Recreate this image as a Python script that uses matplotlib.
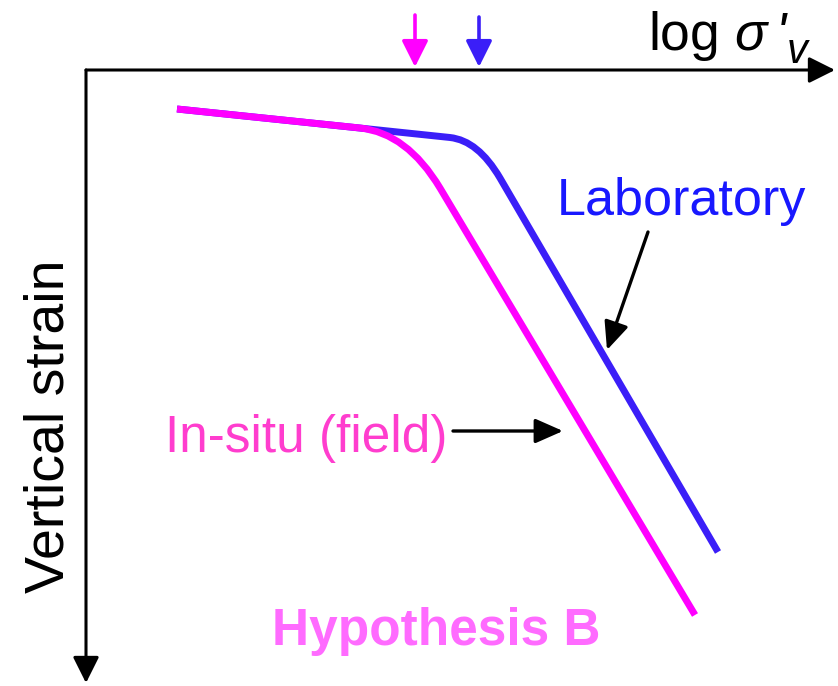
import matplotlib
matplotlib.use("Agg")
import matplotlib.pyplot as plt
from matplotlib.path import Path
from matplotlib.patches import PathPatch

plt.rcParams["font.family"] = ["Liberation Sans", "DejaVu Sans"]
plt.rcParams["mathtext.fontset"] = "custom"
plt.rcParams["mathtext.rm"] = "Liberation Sans"
plt.rcParams["mathtext.it"] = "Liberation Sans:italic"

# Schematic compression curves (log sigma'_v on x, vertical strain downwards).
# Each curve: start, start of bend, bend corner (Bezier control), end of bend, end.
insitu_logs = [177, 360, 407, 440, 695]
insitu_strain = [109, 128, 133, 188, 615]
lab_logs = [177, 350, 450, 478, 500, 718]
lab_strain = [109, 127, 137.5, 140.5, 178, 552]

# Preconsolidation markers on the stress axis
insitu_pc = 415
lab_pc = 479

# Axis frame
origin = (86, 70)
x_end = 835
y_end = 683

MAGENTA = "#ff00ff"
BLUE = "#3b1ef8"
TXT_MAGENTA = "#ff3dce"
TXT_BLUE = "#1818ff"
HYP_COLOR = "#ff6bff"

fig = plt.figure(figsize=(8.38, 6.86), dpi=100)
ax = fig.add_axes([0, 0, 1, 1])
ax.set_xlim(0, 838)
ax.set_ylim(686, 0)
ax.axis("off")


def arrow(ax, start, end, color="black", lw=2.2, hl=15, hw=7.5):
    ax.annotate("", xy=end, xytext=start,
                arrowprops=dict(arrowstyle=f"-|>,head_length={hl / 20},head_width={hw / 20}",
                                mutation_scale=20, lw=lw, color=color,
                                shrinkA=0, shrinkB=0))


# axes with arrow heads
arrow(ax, origin, (x_end, origin[1]), hl=16, hw=8)
arrow(ax, origin, (origin[0], y_end), hl=16, hw=8)

# curves: straight segments joined by a quadratic bend
lab_codes = [Path.MOVETO, Path.LINETO, Path.LINETO, Path.CURVE3, Path.CURVE3, Path.LINETO]
lab_path = Path(list(zip(lab_logs, lab_strain)), lab_codes)
ax.add_patch(PathPatch(lab_path, facecolor="none", edgecolor=BLUE, lw=5,
                       capstyle="butt", joinstyle="round"))

insitu_codes = [Path.MOVETO, Path.LINETO, Path.CURVE3, Path.CURVE3, Path.LINETO]
insitu_path = Path(list(zip(insitu_logs, insitu_strain)), insitu_codes)
ax.add_patch(PathPatch(insitu_path, facecolor="none", edgecolor=MAGENTA, lw=5,
                       capstyle="butt", joinstyle="round"))

# preconsolidation stress markers
arrow(ax, (insitu_pc, 15), (insitu_pc, 67), color=MAGENTA, lw=2.6, hl=16, hw=8)
arrow(ax, (lab_pc, 17), (lab_pc, 67), color=BLUE, lw=2.6, hl=16, hw=8)

# stress axis label: log sigma, slanted prime, then subscript v after it
ax.text(648, 50, r"log $\sigma$", fontsize=38.5, ha="left", va="baseline")
prime = ax.text(776, 50, "'", fontsize=38.5, style="italic", ha="left", va="baseline")
fig.canvas.draw()
bb = prime.get_window_extent(renderer=fig.canvas.get_renderer())
x_after = ax.transData.inverted().transform((bb.x1, bb.y0))[0]
ax.text(x_after, 63, "v", fontsize=30, style="italic", ha="left", va="baseline")

ax.text(63, 426, "Vertical strain", fontsize=40, rotation=90, rotation_mode="anchor",
        ha="center", va="baseline")
ax.text(557, 215, "Laboratory", fontsize=37.5, color=TXT_BLUE, ha="left", va="baseline")
ax.text(165, 452, "In-situ (field)", fontsize=37, color=TXT_MAGENTA, ha="left", va="baseline")
ax.text(272, 645, "Hypothesis B", fontsize=37, fontweight="bold", color=HYP_COLOR,
        ha="left", va="baseline")

# pointers to the curves
arrow(ax, (648, 232), (607, 350), lw=2.4, hl=17, hw=7.5)
arrow(ax, (453, 431), (563, 431), lw=2.4, hl=17, hw=7.5)

fig.savefig("out.png", dpi=100)
